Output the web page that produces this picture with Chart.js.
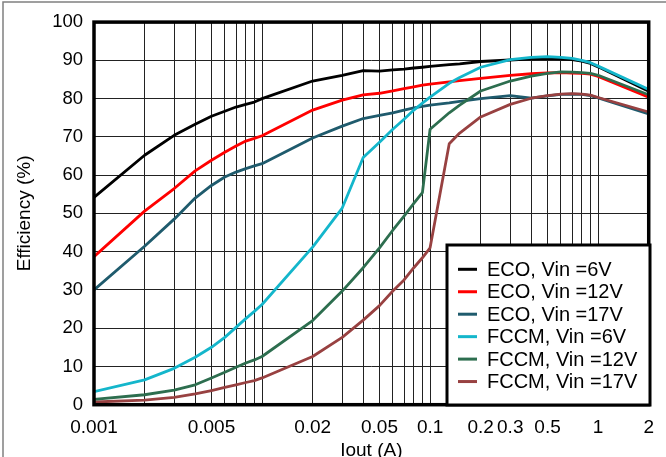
<!DOCTYPE html>
<html>
<head>
<meta charset="utf-8">
<title>Efficiency vs Iout</title>
<script src="https://cdn.jsdelivr.net/npm/chart.js@4.4.1/dist/chart.umd.min.js"></script>
<style>
  html, body { margin: 0; padding: 0; background: #fff; }
  canvas { display: block; }
</style>
</head>
<body>
<canvas id="effChart" width="666" height="457"></canvas>
<script>
// output current (A), shared by every curve
const iout = [0.001, 0.002, 0.003, 0.004, 0.005, 0.006, 0.007, 0.008, 0.009, 0.01,
  0.02, 0.03, 0.04, 0.05, 0.06, 0.07, 0.08, 0.09, 0.1, 0.13, 0.15, 0.2,
  0.3, 0.4, 0.5, 0.6, 0.7, 0.8, 0.9, 1, 2];

// efficiency (%)
const ecoVin6 = [54.2, 65.2, 70.4, 73.3, 75.4, 76.7, 77.8, 78.5, 79.1, 80.0,
  84.6, 86.1, 87.3, 87.2, 87.5, 87.7, 88.0, 88.2, 88.4, 88.9, 89.1, 89.7,
  90.1, 90.4, 90.5, 90.4, 90.2, 89.8, 89.2, 88.3, 81.9];
const ecoVin12 = [38.7, 50.6, 56.5, 61.1, 63.9, 66.0, 67.6, 68.9, 69.6, 70.3,
  77.0, 79.6, 81.0, 81.4, 82.0, 82.6, 83.1, 83.5, 83.8, 84.4, 84.7, 85.3,
  86.1, 86.5, 86.7, 86.8, 86.7, 86.6, 86.4, 85.8, 80.4];
const ecoVin17 = [30.0, 41.4, 48.5, 54.0, 57.3, 59.5, 60.8, 61.7, 62.4, 63.0,
  69.7, 72.8, 74.8, 75.6, 76.3, 77.0, 77.6, 78.0, 78.3, 78.9, 79.3, 80.0,
  80.8, 80.1, 80.7, 81.1, 81.2, 81.1, 80.8, 80.2, 76.0];
const fccmVin6 = [3.4, 6.5, 9.5, 12.4, 15.0, 17.6, 20.2, 22.5, 24.4, 26.2,
  41.2, 51.4, 64.6, 68.6, 72.0, 74.6, 77.0, 78.8, 80.4, 84.0, 85.5, 88.2,
  90.2, 90.8, 91.0, 90.8, 90.5, 90.0, 89.4, 88.5, 82.4];
const fccmVin12 = [1.4, 2.6, 3.8, 5.2, 7.0, 8.5, 9.8, 10.9, 11.7, 12.6,
  22.0, 29.7, 35.8, 41.0, 45.6, 49.3, 52.6, 55.4, 72.0, 76.3, 78.3, 82.0,
  84.6, 85.9, 86.6, 87.0, 86.9, 86.8, 86.6, 86.1, 81.0];
const fccmVin17 = [0.7, 1.2, 1.9, 2.8, 3.7, 4.5, 5.2, 5.8, 6.3, 7.0,
  12.6, 17.6, 22.1, 25.9, 29.7, 32.6, 35.8, 38.4, 41.0, 68.2, 71.0, 75.2,
  78.5, 80.1, 80.8, 81.2, 81.3, 81.2, 80.9, 80.3, 76.5];

const seriesLabels = ['ECO, Vin =6V', 'ECO, Vin =12V', 'ECO, Vin =17V',
  'FCCM, Vin =6V', 'FCCM, Vin =12V', 'FCCM, Vin =17V'];
const seriesColors = ['#000000', '#ff0000', '#1f5b6d', '#14b6cb', '#2d6e4f', '#984141'];
const seriesValues = [ecoVin6, ecoVin12, ecoVin17, fccmVin6, fccmVin12, fccmVin17];

// vertical grid lines and the ones that get a label
const xGrid = [0.001, 0.002, 0.003, 0.004, 0.005, 0.006, 0.007, 0.008, 0.009,
  0.01, 0.02, 0.03, 0.04, 0.05, 0.06, 0.07, 0.08, 0.09,
  0.1, 0.2, 0.3, 0.4, 0.5, 0.6, 0.7, 0.8, 0.9, 1, 2];
const xTickLabels = [0.001, 0.005, 0.02, 0.05, 0.1, 0.2, 0.3, 0.5, 1, 2];

const FONT = "'Liberation Sans', Arial, sans-serif";

const datasets = seriesValues.map((vals, i) => ({
  label: seriesLabels[i],
  data: iout.map((x, k) => ({ x: x, y: vals[k] })),
  borderColor: seriesColors[i],
  backgroundColor: seriesColors[i],
  borderWidth: 2.8,
  borderJoinStyle: 'round',
  pointRadius: 0,
  tension: 0,
  order: i < 3 ? 1 : 0   // FCCM curves sit on top
}));

// outer frame, thick plot border and the boxed legend
const framePlugin = {
  id: 'framePlugin',
  beforeDraw(chart) {
    const ctx = chart.ctx;
    ctx.save();
    ctx.strokeStyle = '#808080';
    ctx.lineWidth = 1.5;
    ctx.beginPath();
    ctx.moveTo(3, chart.height);
    ctx.lineTo(3, 2);
    ctx.lineTo(chart.width, 2);
    ctx.stroke();
    ctx.restore();
  },
  afterDatasetsDraw(chart) {
    const { ctx, chartArea: a } = chart;
    ctx.save();
    ctx.strokeStyle = '#000';
    ctx.lineWidth = 3.5;
    ctx.strokeRect(a.left, a.top, a.right - a.left, a.bottom - a.top);
    ctx.restore();
  },
  afterDraw(chart) {
    const ctx = chart.ctx;
    const box = { left: 447, top: 245, right: 650, bottom: 405 };
    ctx.save();
    ctx.fillStyle = '#fff';
    ctx.fillRect(box.left, box.top, box.right - box.left, box.bottom - box.top);
    ctx.strokeStyle = '#000';
    ctx.lineWidth = 3;
    ctx.strokeRect(box.left, box.top, box.right - box.left, box.bottom - box.top);
    ctx.font = '20px ' + FONT;
    ctx.textBaseline = 'middle';
    ctx.fillStyle = '#000';
    chart.data.datasets.forEach((ds, i) => {
      const y = 269.3 + i * 22.45;
      ctx.strokeStyle = ds.borderColor;
      ctx.lineWidth = 3;
      ctx.beginPath();
      ctx.moveTo(458, y);
      ctx.lineTo(477, y);
      ctx.stroke();
      ctx.fillText(ds.label, 487, y + 1);
    });
    ctx.restore();
  }
};

const chart = new Chart(document.getElementById('effChart'), {
  type: 'line',
  data: { datasets: datasets },
  plugins: [framePlugin],
  options: {
    responsive: false,
    devicePixelRatio: 1,
    animation: false,
    layout: { padding: { top: 21.7, right: 16.5, left: 0, bottom: 0 } },
    plugins: {
      legend: { display: false },
      tooltip: { enabled: false }
    },
    scales: {
      x: {
        type: 'logarithmic',
        min: 0.001,
        max: 2,
        afterBuildTicks: (scale) => {
          scale.ticks = xGrid.map(v => ({ value: v }));
        },
        afterFit: (scale) => { scale.height = 52.3; },
        grid: { color: '#222', lineWidth: 1, drawTicks: false },
        border: { display: false },
        ticks: {
          autoSkip: false,
          maxRotation: 0,
          padding: 12,
          color: '#000',
          font: { family: FONT, size: 19 },
          callback: (v) => xTickLabels.includes(v) ? String(v) : ''
        },
        title: {
          display: true,
          text: 'Iout (A)',
          color: '#000',
          font: { family: FONT, size: 19, lineHeight: 0.7 },
          padding: 0
        }
      },
      y: {
        min: 0,
        max: 100,
        afterFit: (scale) => { scale.width = 94; },
        grid: { color: '#222', lineWidth: 1, drawTicks: false },
        border: { display: false },
        ticks: {
          stepSize: 10,
          padding: 11,
          color: '#000',
          font: { family: FONT, size: 18.5 }
        },
        title: {
          display: true,
          text: 'Efficiency (%)',
          color: '#000',
          font: { family: FONT, size: 19, lineHeight: 1.2 },
          padding: { top: 13, bottom: 0 }
        }
      }
    }
  }
});
</script>
</body>
</html>
